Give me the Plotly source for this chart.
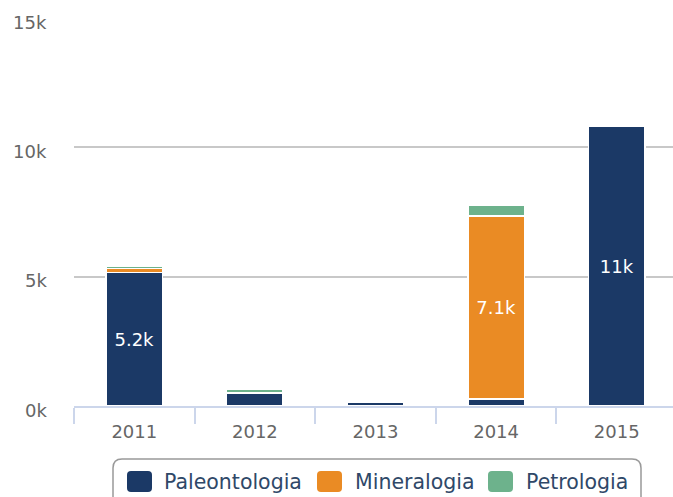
import plotly.graph_objects as go

years = ["2011", "2012", "2013", "2014", "2015"]
series_names = ["Paleontologia", "Mineralogia", "Petrologia"]
paleontologia = [5160, 500, 160, 270, 10800]
mineralogia = [150, 30, 0, 7080, 0]
petrologia = [110, 110, 0, 420, 0]
colors = ["#1b3966", "#ea8b24", "#6db28c"]
y_tickvals = [0, 5000, 10000, 15000]
y_ticktext = ["0k", "5k", "10k", "15k"]

W, H = 678, 497
L, R, T, B = 74, 1, 18, 91
PW, PH = W - L - R, H - T - B


def px(x):
    return (x - L) / PW


def py(y):
    return (H - B - y) / PH


fig = go.Figure()
for name, vals, col in zip(series_names, [paleontologia, mineralogia, petrologia], colors):
    fig.add_trace(go.Bar(
        x=years, y=vals, name=name,
        marker=dict(color=col, line=dict(color="white", width=1.5)),
        texttemplate="%{y:.2s}", textposition="inside", insidetextanchor="middle",
        textangle=0,
        textfont=dict(color="white", size=18, family="DejaVu Sans"),
        showlegend=False,
    ))


def rrect_paper(x0, y0, x1, y1, r):
    sx0, sx1 = px(x0), px(x1)
    sy0, sy1 = py(y0), py(y1)
    rx = r / PW
    ry = r / PH
    return (f"M{sx0+rx},{sy0} L{sx1-rx},{sy0} Q{sx1},{sy0} {sx1},{sy0-ry} L{sx1},{sy1+ry} "
            f"Q{sx1},{sy1} {sx1-rx},{sy1} L{sx0+rx},{sy1} Q{sx0},{sy1} {sx0},{sy1+ry} "
            f"L{sx0},{sy0-ry} Q{sx0},{sy0} {sx0+rx},{sy0} Z")


shapes = [dict(type="path", xref="paper", yref="paper",
               path=rrect_paper(113, 459, 641, 512, 9),
               line=dict(color="#999999", width=1.5), fillcolor="rgba(0,0,0,0)", layer="above")]
annotations = []
sym_x = [127, 317, 488]
txt_x = [162, 353, 524]
for name, col, sx, tx in zip(series_names, colors, sym_x, txt_x):
    shapes.append(dict(type="path", xref="paper", yref="paper",
                       path=rrect_paper(sx, 471, sx + 25, 492, 4),
                       line=dict(width=0), fillcolor=col, layer="above"))
    annotations.append(dict(xref="paper", yref="paper", x=px(tx), y=py(482),
                            xanchor="left", yanchor="middle", text=name, showarrow=False,
                            font=dict(size=20.5, color="#2f4868", family="DejaVu Sans")))

# y tick labels (Highcharts style, slightly below the gridline)
for v, t in zip(y_tickvals, y_ticktext):
    annotations.append(dict(xref="paper", yref="y", x=0, y=v, xanchor="right",
                            yanchor="middle", xshift=-25, yshift=-4, text=t, showarrow=False,
                            font=dict(size=18, color="#666666", family="DejaVu Sans")))

fig.update_layout(
    width=W, height=H,
    margin=dict(l=L, r=R, t=T, b=B, pad=0, autoexpand=False),
    barmode="stack", bargap=0.53,
    plot_bgcolor="white", paper_bgcolor="white",
    font=dict(family="DejaVu Sans", size=18, color="#666666"),
    uniformtext=dict(minsize=18, mode="hide"),
    shapes=shapes, annotations=annotations,
    showlegend=False,
    xaxis=dict(type="category", tickson="boundaries", ticks="outside", ticklen=16,
               tickcolor="#ccd6eb", tickwidth=1.5, showline=True, linecolor="#ccd6eb",
               linewidth=2, showgrid=False, tickfont=dict(size=18, color="#666666"),
               ticklabelstandoff=8, automargin=False, fixedrange=True),
    yaxis=dict(range=[0, 15000], tickvals=y_tickvals, showticklabels=False,
               showgrid=True, gridcolor="#c8c8c8", gridwidth=1.5, zeroline=False,
               automargin=False, showline=False, fixedrange=True),
)

fig.write_html("out.html", config={"displayModeBar": False},
               post_script="document.body.style.margin='0';document.body.style.overflow='hidden';")
